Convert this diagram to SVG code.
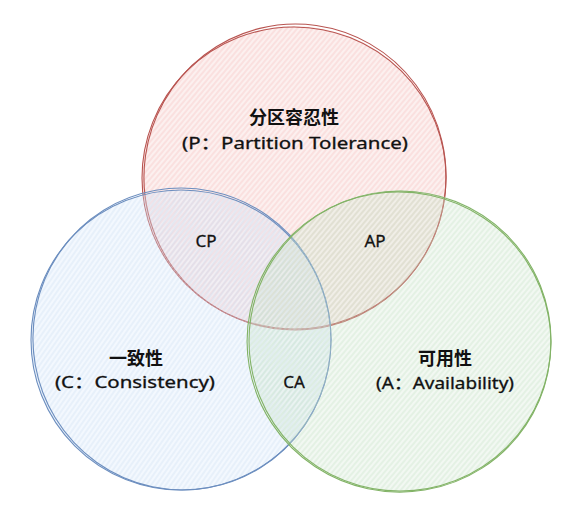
<svg xmlns="http://www.w3.org/2000/svg" width="581" height="521" viewBox="0 0 581 521">
<style>
.t{font-family:"Noto Sans CJK SC","Noto Sans",sans-serif;font-weight:bold;font-size:18px;fill:#111;text-anchor:middle}
.s{font-family:"Noto Sans","Liberation Sans","Noto Sans CJK SC",sans-serif;font-size:16px;fill:#111;stroke:#111;stroke-width:0.3;text-anchor:middle}
.l{font-size:17px}
.o{fill:none;stroke-width:1.1}
</style>
<defs>
<pattern id="hr" patternUnits="userSpaceOnUse" width="4" height="4" patternTransform="rotate(-50)"><rect width="4" height="4" fill="#f8cecc" fill-opacity="0.3"/><line x1="0" y1="2" x2="4" y2="2" stroke="#f2aaa6" stroke-width="0.8" stroke-opacity="0.55"/></pattern>
<pattern id="hb" patternUnits="userSpaceOnUse" width="4" height="4" patternTransform="rotate(-55)"><rect width="4" height="4" fill="#dae8fc" fill-opacity="0.3"/><line x1="0" y1="2" x2="4" y2="2" stroke="#b9d0f0" stroke-width="0.8" stroke-opacity="0.55"/></pattern>
<pattern id="hg" patternUnits="userSpaceOnUse" width="4" height="4" patternTransform="rotate(-50)"><rect width="4" height="4" fill="#d5e8d4" fill-opacity="0.3"/><line x1="0" y1="2" x2="4" y2="2" stroke="#b4d6b2" stroke-width="0.8" stroke-opacity="0.55"/></pattern>
</defs>
<g id="node-p">
<circle cx="294" cy="178" r="152" fill="url(#hr)"/>
<ellipse class="o" cx="294" cy="178" rx="152" ry="151" stroke="#b85450"/>
<ellipse class="o" cx="295" cy="177" rx="151" ry="153" stroke="#b85450" transform="rotate(8 295 177)"/>
<text class="t" x="294" y="124">分区容忍性</text>
<text class="s" x="295" y="149" textLength="226" lengthAdjust="spacingAndGlyphs">(P：Partition Tolerance)</text>
</g>
<g id="node-c">
<circle cx="181" cy="340" r="150" fill="url(#hb)"/>
<ellipse class="o" cx="181" cy="340" rx="150" ry="150" stroke="#6c8ebf"/>
<ellipse class="o" cx="182" cy="339" rx="149" ry="151" stroke="#6c8ebf" transform="rotate(-10 182 339)"/>
<text class="t" x="136" y="365">一致性</text>
<text class="s" x="135" y="388" textLength="160" lengthAdjust="spacingAndGlyphs">(C：Consistency)</text>
</g>
<g id="node-a">
<circle cx="400" cy="341" r="151" fill="url(#hg)"/>
<ellipse class="o" cx="400" cy="341" rx="151" ry="150" stroke="#82b366"/>
<ellipse class="o" cx="399" cy="342" rx="152" ry="150" stroke="#82b366" transform="rotate(12 399 342)"/>
<text class="t" x="445" y="365">可用性</text>
<text class="s" x="445" y="389" textLength="138" lengthAdjust="spacingAndGlyphs">(A：Availability)</text>
</g>
<g id="labels">
<text class="s l" x="206" y="247">CP</text>
<text class="s l" x="375" y="247">AP</text>
<text class="s l" x="294" y="388">CA</text>
</g>
</svg>
